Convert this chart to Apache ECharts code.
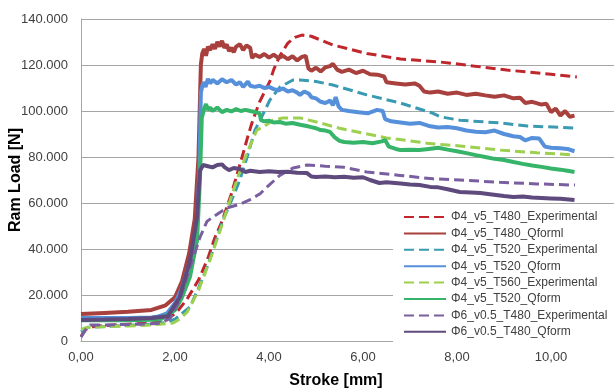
<!DOCTYPE html>
<html>
<head>
<meta charset="utf-8">
<script src="https://cdn.jsdelivr.net/npm/echarts@6.0.0/dist/echarts.min.js"></script>
<style>
  html, body { margin: 0; padding: 0; background: #fff; }
  #chart { width: 614px; height: 389px; }
</style>
</head>
<body>
<div id="chart"></div>
<script>
// ram load in thousands of N, stroke in mm
const xTicks = [0, 2, 4, 6, 8, 10, 12]
const yTicks = [0, 20, 40, 60, 80, 100, 120, 140]

// the reference has two entries called Φ4_v5_T520_Qform, the second gets a trailing space so the legend keeps both
const seriesNames = [
  'Φ4_v5_T480_Experimental',
  'Φ4_v5_T480_Qforml',
  'Φ4_v5_T520_Experimental',
  'Φ4_v5_T520_Qform',
  'Φ4_v5_T560_Experimental',
  'Φ4_v5_T520_Qform ',
  'Φ6_v0.5_T480_Experimental',
  'Φ6_v0.5_T480_Qform'
]

const t480ExpX = [0, 0.1, 0.3, 1.0, 1.5, 1.8, 2.04, 2.25, 2.5, 2.7, 2.85, 3.0, 3.2, 3.4, 3.55, 3.64, 3.8, 4.02, 4.1, 4.23, 4.4, 4.55, 4.7, 4.9, 5.36, 6.08, 6.8, 7.64, 8.06, 9.06, 10.0, 10.55]
const t480ExpY = [2, 5, 6.5, 7.3, 7.8, 8.8, 12.6, 18, 26.5, 36, 45, 52, 64, 78, 89, 95, 104, 113, 118, 124, 129.5, 132, 133, 132.5, 128.7, 125, 122.6, 121.3, 120.3, 117.8, 116, 114.8]

const t480QfX = [0, 0.5, 1.0, 1.5, 1.8, 2.0, 2.15, 2.3, 2.42, 2.5, 2.55, 2.58, 2.62, 2.66, 2.7, 2.75, 2.8, 2.85, 2.9, 2.95, 3.0, 3.05, 3.1, 3.15, 3.2, 3.25, 3.3, 3.38, 3.45, 3.52, 3.6, 3.64, 3.7, 3.8, 3.9, 4.0, 4.1, 4.2, 4.3, 4.4, 4.5, 4.6, 4.7, 4.78, 4.84, 4.9, 5.0, 5.1, 5.2, 5.3, 5.36, 5.45, 5.55, 5.7, 5.85, 6.0, 6.15, 6.3, 6.45, 6.5, 6.7, 6.9, 7.1, 7.2, 7.3, 7.43, 7.6, 7.8, 8.0, 8.2, 8.4, 8.6, 8.8, 9.0, 9.2, 9.34, 9.45, 9.6, 9.8, 9.9, 10.0, 10.1, 10.2, 10.3, 10.4, 10.5]
const t480QfY = [11.7, 12.2, 12.7, 13.5, 15.5, 19, 26, 38, 53, 80, 120, 125, 127, 124, 128, 126.5, 129, 127, 130, 128, 130.5, 127.5, 129, 126, 127.5, 125.5, 128, 129, 126.5, 128.5, 127.5, 123, 124.5, 123.5, 124.8, 123.2, 124.5, 123, 124, 122.5, 123.8, 122, 123.5, 124, 118.5, 117.5, 118.8, 117.2, 119, 119.5, 120.5, 118, 117, 118, 116.5, 117.5, 116, 115.8, 115, 112.5, 112, 111.5, 112, 111, 108.5, 108, 108.5, 107.5, 108, 107, 107.5, 106.8, 106.2, 106.8, 105.5, 105.8, 103.5, 104, 102.8, 103.2, 99.5, 101, 98, 100, 97.5, 98]

const t520ExpX = [0, 0.15, 0.5, 1.0, 1.5, 1.8, 2.0, 2.15, 2.32, 2.5, 2.7, 2.85, 3.02, 3.2, 3.38, 3.55, 3.7, 3.81, 4.02, 4.23, 4.51, 4.66, 5.0, 5.36, 6.08, 6.79, 7.49, 7.64, 8.06, 8.91, 9.5, 10.51]
const t520ExpY = [4, 6, 6.3, 6.8, 7.3, 8, 9.5, 12, 14.8, 23, 33, 42, 52.6, 61, 70, 81, 91.7, 96, 104.8, 110.4, 113.5, 113.5, 112.8, 111.3, 107, 103.5, 99, 97.5, 96, 94.8, 93.5, 92.6]

const t520QfX = [0, 0.5, 1.0, 1.5, 1.62, 1.83, 2.0, 2.15, 2.28, 2.38, 2.45, 2.52, 2.55, 2.6, 2.65, 2.7, 2.75, 2.8, 2.9, 3.0, 3.1, 3.2, 3.3, 3.38, 3.45, 3.55, 3.6, 3.7, 3.8, 3.9, 4.0, 4.1, 4.2, 4.3, 4.4, 4.5, 4.6, 4.66, 4.75, 4.85, 4.9, 5.0, 5.1, 5.2, 5.3, 5.36, 5.42, 5.48, 5.55, 5.7, 5.9, 6.1, 6.3, 6.42, 6.47, 6.6, 6.8, 7.0, 7.2, 7.4, 7.6, 7.8, 8.0, 8.2, 8.4, 8.6, 8.8, 9.0, 9.2, 9.34, 9.45, 9.6, 9.75, 9.87, 10.0, 10.2, 10.35, 10.5]
const t520QfY = [10, 10, 10, 10.2, 10.5, 12, 16.5, 23, 32, 38, 43, 75, 108, 112.5, 110.5, 114, 112, 113.5, 112, 113.8, 112.5, 113.5, 111.5, 112.5, 110.5, 112.8, 111, 110.5, 111, 110, 110.5, 109.5, 109, 109.8, 108.5, 109, 108, 107, 108.5, 107.5, 106, 105.5, 104, 103.5, 104.5, 102.5, 106, 102, 100.5, 100, 99.5, 99, 100.5, 100, 96.5, 95.5, 95, 94.5, 94.8, 93.5, 92.8, 93, 92.5, 91.5, 91, 90.8, 91.5, 90, 89, 88.7, 87.2, 88.3, 88, 84.5, 84, 83.8, 83.5, 82.5]

const t560ExpX = [0, 0.15, 0.5, 1.0, 1.5, 1.96, 2.1, 2.26, 2.5, 2.74, 2.96, 3.17, 3.35, 3.53, 3.74, 3.87, 4.09, 4.3, 4.66, 5.09, 5.5, 6.0, 6.5, 7.0, 7.36, 7.64, 8.06, 8.91, 9.7, 10.51]
const t560ExpY = [5, 6, 6.2, 6.5, 7, 7.8, 9.5, 12.6, 22, 35, 48, 61, 72, 81.7, 91.7, 93, 96, 97, 97, 94.8, 92.5, 90.4, 88.3, 87, 86, 85.5, 84.8, 83, 81.8, 80.9]

const t520bQfX = [0, 0.5, 1.0, 1.5, 1.7, 2.0, 2.15, 2.32, 2.47, 2.53, 2.57, 2.62, 2.66, 2.7, 2.75, 2.8, 2.9, 3.0, 3.1, 3.2, 3.3, 3.4, 3.5, 3.6, 3.7, 3.8, 3.83, 3.9, 4.0, 4.1, 4.23, 4.35, 4.5, 4.66, 4.8, 4.9, 5.0, 5.1, 5.2, 5.3, 5.4, 5.5, 5.6, 5.8, 6.0, 6.2, 6.4, 6.47, 6.55, 6.7, 6.8, 7.0, 7.2, 7.4, 7.6, 7.8, 8.0, 8.2, 8.4, 8.6, 8.8, 9.0, 9.2, 9.4, 9.6, 9.8, 10.0, 10.2, 10.35, 10.5]
const t520bQfY = [9, 9, 9, 9.2, 9.5, 13.5, 19, 28, 44, 70, 97, 101, 103, 100.5, 101.5, 100, 101.5, 99.5, 100.5, 99.8, 100.8, 100, 100.5, 100, 99.6, 99, 96, 95.5, 95.8, 95, 95.2, 94.5, 94.8, 94, 93.5, 93, 92.5, 91.7, 91.5, 90.9, 88.5, 87, 86.5, 86.2, 86.5, 86, 86.8, 87.4, 84.5, 83.5, 83, 83.2, 83, 83.5, 84, 83.2, 82.5, 81.7, 80.8, 80, 79.2, 78.7, 77.8, 77, 76.3, 75.7, 75, 74.5, 74, 73.5]

const d6ExpX = [0, 0.1, 0.2, 0.5, 1.0, 1.5, 1.7, 1.9, 2.1, 2.32, 2.53, 2.68, 2.85, 3.1, 3.38, 3.6, 3.81, 3.96, 4.23, 4.51, 4.81, 5.2, 5.6, 6.08, 6.79, 7.49, 8.06, 8.91, 9.7, 10.51]
const d6ExpY = [1.7, 5, 7, 7, 7.2, 7.5, 7.8, 10, 17.8, 32, 45, 52, 54.5, 57.8, 59.5, 61.5, 64, 67, 72, 75.2, 76.5, 76, 75.5, 73.5, 72, 70.5, 70, 69, 68.3, 67.8]

const d6QfX = [0, 0.5, 1.0, 1.5, 1.85, 2.1, 2.32, 2.47, 2.53, 2.6, 2.64, 2.7, 2.8, 2.9, 3.0, 3.06, 3.15, 3.25, 3.38, 3.5, 3.6, 3.8, 4.0, 4.2, 4.4, 4.6, 4.81, 4.9, 5.0, 5.2, 5.4, 5.6, 5.8, 6.0, 6.15, 6.35, 6.5, 6.8, 7.0, 7.2, 7.43, 7.6, 7.8, 8.06, 8.3, 8.5, 8.7, 9.0, 9.2, 9.4, 9.6, 9.8, 10.0, 10.2, 10.5]
const d6QfY = [9.1, 9.3, 9.6, 10, 10.8, 19, 35, 54, 74, 76.5, 75.7, 76, 75.5, 76.5, 76.8, 75.5, 74.3, 75.2, 74.8, 73.5, 74, 73.5, 73.8, 73.5, 73.6, 73.2, 73, 71.5, 71.3, 71.5, 71.2, 71.4, 71, 71.2, 70, 68.7, 69, 68.5, 68, 67.8, 67, 66.8, 66, 64.8, 64.6, 64.3, 63.8, 63, 62.6, 62.8, 62.4, 62.2, 62, 61.8, 61.3]

const seriesX = [t480ExpX, t480QfX, t520ExpX, t520QfX, t560ExpX, t520bQfX, d6ExpX, d6QfX]
const seriesY = [t480ExpY, t480QfY, t520ExpY, t520QfY, t560ExpY, t520bQfY, d6ExpY, d6QfY]
const colors = ['#C0272D', '#A8403D', '#3A9AB2', '#5690DA', '#9CD04E', '#36B46A', '#7A5FA0', '#5F4A7E']
const dashed = [true, false, true, false, true, false, true, false]

const font = 'Liberation Sans, Arial, sans-serif'
const chart = echarts.init(document.getElementById('chart'))

const series = seriesNames.map((name, i) => ({
  name,
  type: 'line',
  symbol: 'none',
  z: 2 + i,
  color: colors[i],
  data: seriesX[i].map((x, k) => [x, seriesY[i][k]]),
  lineStyle: {
    color: colors[i],
    width: dashed[i] ? 3 : 4,
    type: dashed[i] ? [10, 5] : 'solid'
  }
}))

chart.setOption({
  animation: false,
  backgroundColor: '#fff',
  textStyle: { fontFamily: font },
  grid: { left: 81, top: 19, right: -31, bottom: 48, outerBoundsMode: 'none', containLabel: false },
  xAxis: {
    type: 'value',
    min: xTicks[0],
    max: xTicks[xTicks.length - 1],
    interval: 2,
    name: 'Stroke [mm]',
    nameLocation: 'middle',
    nameGap: 32,
    nameMoveOverlap: false,
    nameTextStyle: { fontSize: 16, fontWeight: 'bold', color: '#000', padding: [0, 54, 0, 0] },
    axisLine: { lineStyle: { color: '#A6A6A6' } },
    axisTick: { show: false },
    splitLine: { show: false },
    axisLabel: {
      color: '#404040',
      fontSize: 13,
      margin: 10,
      formatter: v => v.toFixed(2).replace('.', ',')
    }
  },
  yAxis: {
    type: 'value',
    min: yTicks[0],
    max: yTicks[yTicks.length - 1],
    interval: 20,
    name: 'Ram Load [N]',
    nameLocation: 'middle',
    nameGap: 57,
    nameMoveOverlap: false,
    nameTextStyle: { fontSize: 16, fontWeight: 'bold', color: '#000' },
    axisLine: { show: true, lineStyle: { color: '#A6A6A6' } },
    axisTick: { show: false },
    splitLine: { lineStyle: { color: '#A6A6A6' } },
    axisLabel: {
      color: '#404040',
      fontSize: 13,
      margin: 13,
      formatter: v => (v === 0 ? '0' : v + '.000')
    }
  },
  legend: {
    orient: 'vertical',
    left: 393,
    top: 207,
    padding: [3, 30, 4, 10],
    backgroundColor: '#fff',
    itemWidth: 42,
    itemHeight: 14,
    itemGap: 2.4,
    itemStyle: { opacity: 0 },
    textStyle: { fontSize: 12, color: '#404040', lineHeight: 14 },
    data: seriesNames
  },
  series
})
</script>
</body>
</html>
